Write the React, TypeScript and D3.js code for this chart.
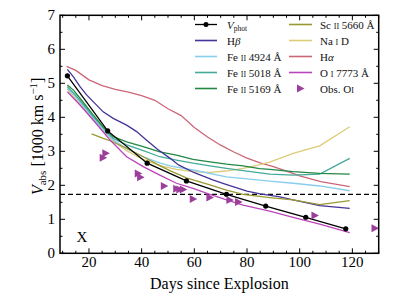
import React from "react";
import * as d3 from "d3";

// ---- data ----
const vphotDays = [11.8, 27.1, 42.1, 57.0, 72.2, 87.1, 102.3, 117.5];
const vphotVel = [5.22, 3.6, 2.65, 2.13, 1.735, 1.39, 1.06, 0.72];

const hbDays = [11.8, 14.1, 16.6, 19.1, 21.6, 25.4, 29.2, 34.3, 38.1, 42, 46, 50.7, 54, 60, 67, 72, 80, 85, 92, 97.5, 107.6, 119];
const hbVel = [5.41, 5.19, 4.9, 4.66, 4.46, 4.16, 3.97, 3.77, 3.58, 3.32, 3.06, 2.8, 2.6, 2.37, 2.16, 2.03, 1.83, 1.75, 1.67, 1.57, 1.4, 1.32];

const fe4924Days = [11.8, 14.1, 16.6, 21.6, 25.4, 29.2, 34.3, 40.6, 46.9, 50.7, 59.5, 72.2, 88.6, 97.5, 107.6, 119];
const fe4924Vel = [4.85, 4.68, 4.45, 3.97, 3.62, 3.33, 3.08, 2.84, 2.66, 2.57, 2.45, 2.25, 2.12, 2.06, 1.98, 1.84];

const fe5018Days = [11.8, 14.1, 16.6, 21.6, 25.4, 29.2, 34.3, 40.6, 46.9, 53.2, 59.5, 65.9, 72.2, 78.5, 88.6, 97.5, 107.6, 119];
const fe5018Vel = [4.9, 4.72, 4.5, 4.02, 3.68, 3.38, 3.19, 3.02, 2.84, 2.74, 2.65, 2.57, 2.5, 2.43, 2.33, 2.3, 2.33, 2.79];

const fe5169Days = [11.8, 14.1, 16.6, 21.6, 25.4, 29.2, 34.3, 40.6, 46.9, 53.2, 59.5, 65.9, 72.2, 78.5, 84.8, 88.6, 97.5, 107.6, 119];
const fe5169Vel = [4.95, 4.8, 4.56, 4.07, 3.72, 3.43, 3.28, 3.14, 2.98, 2.89, 2.76, 2.69, 2.62, 2.57, 2.49, 2.47, 2.4, 2.35, 2.33];

const scDays = [21, 25.4, 28, 34.3, 40.6, 46.9, 50.7, 57, 65.9, 72.2, 78.5, 88.6, 97.5, 107.6, 119];
const scVel = [3.51, 3.38, 3.31, 3.09, 2.84, 2.58, 2.43, 2.22, 2.01, 1.86, 1.73, 1.64, 1.57, 1.43, 1.55];

const naDays = [11.8, 16.6, 21.6, 25.4, 29.2, 34.3, 40.6, 46.9, 53.2, 59.5, 65.9, 72.2, 78.5, 82.3, 88.6, 97.5, 107.6, 119];
const naVel = [4.82, 4.4, 3.92, 3.58, 3.3, 3.02, 2.76, 2.58, 2.47, 2.4, 2.38, 2.42, 2.5, 2.56, 2.68, 2.94, 3.16, 3.72];

const haDays = [11.5, 15, 20, 25, 30, 35, 40, 45, 50, 55, 60, 65, 70, 75, 80, 85, 90, 95, 100, 108, 119];
const haVel = [5.5, 5.38, 5.1, 4.93, 4.82, 4.74, 4.64, 4.5, 4.25, 4.05, 3.7, 3.42, 3.18, 2.98, 2.8, 2.66, 2.55, 2.42, 2.28, 2.11, 1.96];

const oiDays = [11.8, 16.6, 21.6, 28, 34.3, 40.6, 46.9, 53.2, 59.5, 65.9, 72.2, 78.5, 88.6, 97.5, 107.6, 119];
const oiVel = [4.75, 4.36, 3.92, 3.33, 2.84, 2.55, 2.3, 2.06, 1.91, 1.73, 1.57, 1.42, 1.24, 1.06, 0.86, 0.61];

const obsOiDays = [25.4, 26.4, 38.7, 39.6, 48.6, 53.3, 54.5, 55.8, 59.6, 65.9, 73.5, 76.8, 105.8, 128.6];
const obsOiVel = [2.81, 2.94, 2.35, 2.24, 1.98, 1.9, 1.88, 1.88, 1.6, 1.64, 1.57, 1.51, 1.11, 0.74];

const dashedLevel = 1.735;

const xTicks = [20, 40, 60, 80, 100, 120];
const yTicks = [0, 1, 2, 3, 4, 5, 6, 7];

const W = 399, H = 299;
const L = 60, R = 378.7, T = 15.3, B = 253.3;
const FONT = "'Liberation Serif', 'Times New Roman', serif";

const C = {
  hb: "#443399",
  fe4924: "#88ccee",
  fe5018: "#44aa99",
  fe5169: "#228844",
  sc: "#999933",
  na: "#ddcc77",
  ha: "#cc6677",
  oi: "#bb44bb",
  obs: "#9b3f9b",
};

const series = [
  { d: haDays, v: haVel, c: C.ha },
  { d: naDays, v: naVel, c: C.na },
  { d: fe4924Days, v: fe4924Vel, c: C.fe4924 },
  { d: fe5018Days, v: fe5018Vel, c: C.fe5018 },
  { d: fe5169Days, v: fe5169Vel, c: C.fe5169 },
  { d: hbDays, v: hbVel, c: C.hb },
  { d: scDays, v: scVel, c: C.sc },
  { d: oiDays, v: oiVel, c: C.oi },
];

function tri(x: number, y: number) {
  return `M${x - 3.5},${y - 4}L${x + 4},${y}L${x - 3.5},${y + 4}Z`;
}

function SmallCaps({ children }: { children: string }) {
  return <tspan style={{ fontVariant: "small-caps" }}>{children}</tspan>;
}

export default function App() {
  const x = d3.scaleLinear().domain([9, 130]).range([L, R]);
  const y = d3.scaleLinear().domain([0, 7]).range([B, T]);
  const line = d3.line<[number, number]>().x((p) => x(p[0])).y((p) => y(p[1]));
  const pts = (d: number[], v: number[]) => d.map((dd, i) => [dd, v[i]] as [number, number]);

  const xMinor = d3.range(10, 131, 5);
  const yMinor = d3.range(0, 7.01, 0.5);

  const legendLeft = [
    { label: "phot", c: "#000", kind: "vphot" },
    { label: "hb", c: C.hb, kind: "line" },
    { label: "fe4924", c: C.fe4924, kind: "line" },
    { label: "fe5018", c: C.fe5018, kind: "line" },
    { label: "fe5169", c: C.fe5169, kind: "line" },
  ];
  const legendRight = [
    { label: "sc", c: C.sc, kind: "line" },
    { label: "na", c: C.na, kind: "line" },
    { label: "ha", c: C.ha, kind: "line" },
    { label: "oi", c: C.oi, kind: "line" },
    { label: "obs", c: C.obs, kind: "tri" },
  ];
  const labelText = (k: string) => {
    switch (k) {
      case "phot":
        return (<><tspan fontStyle="italic">V</tspan><tspan fontSize={7.5} dy={2.5}>phot</tspan></>);
      case "hb":
        return (<>H<tspan fontStyle="italic">β</tspan></>);
      case "fe4924":
        return (<>Fe <SmallCaps>ii</SmallCaps> 4924 Å</>);
      case "fe5018":
        return (<>Fe <SmallCaps>ii</SmallCaps> 5018 Å</>);
      case "fe5169":
        return (<>Fe <SmallCaps>ii</SmallCaps> 5169 Å</>);
      case "sc":
        return (<>Sc <SmallCaps>ii</SmallCaps> 5660 Å</>);
      case "na":
        return (<>Na <SmallCaps>i</SmallCaps> D</>);
      case "ha":
        return (<>H<tspan fontStyle="italic">α</tspan></>);
      case "oi":
        return (<>O <SmallCaps>i</SmallCaps> 7773 Å</>);
      case "obs":
        return (<>Obs. O<SmallCaps>i</SmallCaps></>);
    }
    return k;
  };
  const rowY = (i: number) => 24.5 + i * 16;

  const renderLegend = (items: typeof legendLeft, x0: number, x1: number, tx: number) =>
    items.map((it, i) => {
      const yy = rowY(i);
      return (
        <g key={it.label}>
          {it.kind !== "tri" && (
            <line x1={x0} x2={x1} y1={yy} y2={yy} stroke={it.c} strokeWidth={it.kind === "vphot" ? 1.3 : 1.6} />
          )}
          {it.kind === "vphot" && <circle cx={(x0 + x1) / 2} cy={yy} r={2.5} fill="#000" />}
          {it.kind === "tri" && <path d={tri((x0 + x1) / 2, yy)} fill={it.c} />}
          <text x={tx} y={yy + 4} fontSize={11} fontFamily={FONT} fill="#111">
            {labelText(it.label)}
          </text>
        </g>
      );
    });

  return (
    <svg width={W} height={H} style={{ position: "absolute", left: 0, top: 0, background: "#fff" }}>
      <defs>
        <clipPath id="plotclip">
          <rect x={L} y={T} width={R - L} height={B - T} />
        </clipPath>
      </defs>
      <g clipPath="url(#plotclip)">
        <line x1={L} x2={R} y1={y(dashedLevel)} y2={y(dashedLevel)} stroke="#000" strokeWidth={1.2} strokeDasharray="5,3" />
        {series.map((s, i) => (
          <path key={i} d={line(pts(s.d, s.v)) || ""} fill="none" stroke={s.c} strokeWidth={1.3} />
        ))}
        <path d={line(pts(vphotDays, vphotVel)) || ""} fill="none" stroke="#000" strokeWidth={1.3} />
        {vphotDays.map((d, i) => (
          <circle key={i} cx={x(d)} cy={y(vphotVel[i])} r={2.6} fill="#000" />
        ))}
        {obsOiDays.map((d, i) => (
          <path key={i} d={tri(x(d), y(obsOiVel[i]))} fill={C.obs} />
        ))}
      </g>

      {/* ticks */}
      {xMinor.map((t) => {
        const major = t % 20 === 0;
        const len = major ? 5 : 2.5;
        return (
          <g key={"xt" + t}>
            <line x1={x(t)} x2={x(t)} y1={B} y2={B - len} stroke="#000" strokeWidth={1} />
            <line x1={x(t)} x2={x(t)} y1={T} y2={T + len} stroke="#000" strokeWidth={1} />
          </g>
        );
      })}
      {yMinor.map((t) => {
        const major = Math.abs(t - Math.round(t)) < 1e-6;
        const len = major ? 5 : 2.5;
        return (
          <g key={"yt" + t}>
            <line x1={L} x2={L + len} y1={y(t)} y2={y(t)} stroke="#000" strokeWidth={1} />
            <line x1={R} x2={R - len} y1={y(t)} y2={y(t)} stroke="#000" strokeWidth={1} />
          </g>
        );
      })}
      <rect x={L} y={T} width={R - L} height={B - T} fill="none" stroke="#000" strokeWidth={1.5} />

      {xTicks.map((t) => (
        <text key={"xl" + t} x={x(t)} y={267} textAnchor="middle" fontSize={15} fontFamily={FONT}>
          {t}
        </text>
      ))}
      {yTicks.map((t) => (
        <text key={"yl" + t} x={55} y={y(t) + 5} textAnchor="end" fontSize={15} fontFamily={FONT}>
          {t}
        </text>
      ))}

      <text x={(L + R) / 2} y={289} textAnchor="middle" fontSize={16} fontFamily={FONT}>
        Days since Explosion
      </text>
      <text transform={`translate(43, ${(T + B) / 2 + 2}) rotate(-90)`} textAnchor="middle" fontSize={16} fontFamily={FONT}>
        <tspan fontStyle="italic">V</tspan>
        <tspan fontSize={11} dy={3}>abs</tspan>
        <tspan dy={-3}> [1000 km s</tspan>
        <tspan fontSize={11} dy={-6}>−1</tspan>
        <tspan dy={6}>]</tspan>
      </text>

      <text x={82} y={241.5} textAnchor="middle" fontSize={15} fontFamily={FONT}>X</text>

      {renderLegend(legendLeft, 195, 217, 227)}
      {renderLegend(legendRight, 289, 312, 320)}
    </svg>
  );
}
